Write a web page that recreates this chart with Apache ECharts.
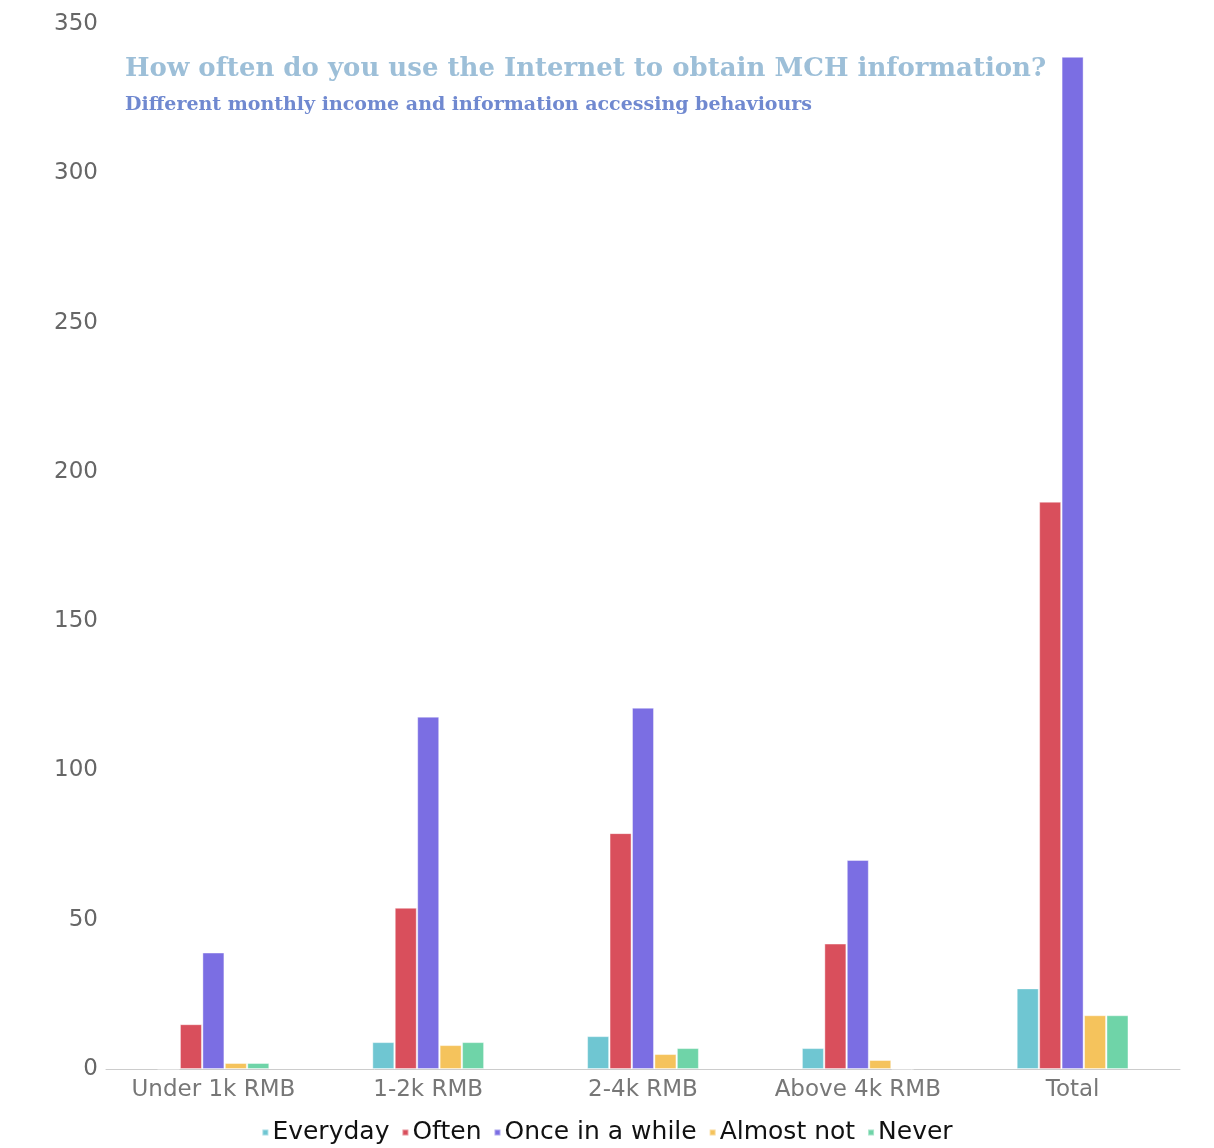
<!DOCTYPE html>
<html>
<head>
<meta charset="utf-8">
<title>MCH information access by monthly income</title>
<script src="https://cdn.jsdelivr.net/npm/echarts@6/dist/echarts.min.js"></script>
<style>
  html, body { margin: 0; padding: 0; background: #ffffff; }
  #chart { width: 1214px; height: 1148px; }
</style>
</head>
<body>
<div id="chart"></div>
<script>
// Income groups along the x axis
const categories = ['Under 1k RMB', '1-2k RMB', '2-4k RMB', 'Above 4k RMB', 'Total'];

// Number of respondents per answer, one value per income group
const everyday     = [0, 9, 11, 7, 27];
const often        = [15, 54, 79, 42, 190];
const onceInAWhile = [39, 118, 121, 70, 339];
const almostNot    = [2, 8, 5, 3, 18];
const never        = [2, 9, 7, 0, 18];

const seriesNames = ['Everyday', 'Often', 'Once in a while', 'Almost not', 'Never'];
const seriesValues = [everyday, often, onceInAWhile, almostNot, never];
const seriesColors = ['#6fc6d2', '#d94f5c', '#7b6ee3', '#f5c35c', '#6fd4a8'];

const chart = echarts.init(document.getElementById('chart'));

chart.setOption({
  animation: false,
  backgroundColor: '#ffffff',
  title: {
    text: 'How often do you use the Internet to obtain MCH information?',
    subtext: 'Different monthly income and information accessing behaviours',
    left: 120,
    top: 51,
    itemGap: 14,
    textStyle: {
      fontFamily: '"DejaVu Serif", serif',
      fontWeight: 'bold',
      fontSize: 26,
      color: '#9dbfd8'
    },
    subtextStyle: {
      fontFamily: '"DejaVu Serif", serif',
      fontWeight: 'bold',
      fontSize: 19,
      color: '#7089d0'
    }
  },
  legend: {
    data: seriesNames,
    bottom: -2,
    left: 'center',
    icon: 'rect',
    itemWidth: 6,
    itemHeight: 6,
    itemGap: 12,
    textStyle: {
      fontFamily: '"DejaVu Sans", sans-serif',
      fontSize: 25,
      color: '#111111',
      padding: [0, 0, 0, -1]
    }
  },
  grid: {
    left: 106,
    right: 34,
    top: 24,
    bottom: 79,
    containLabel: false
  },
  xAxis: {
    type: 'category',
    data: categories,
    axisLine: { lineStyle: { color: '#cccccc', width: 1 } },
    axisTick: { alignWithLabel: true, length: 4, lineStyle: { color: '#cccccc' } },
    axisLabel: {
      interval: 0,
      hideOverlap: false,
      fontFamily: '"DejaVu Sans", sans-serif',
      fontSize: 23,
      color: '#777777',
      margin: 10
    }
  },
  yAxis: {
    type: 'value',
    min: 0,
    max: 350,
    interval: 50,
    splitLine: { show: false },
    axisLine: { show: false },
    axisTick: { show: false },
    axisLabel: {
      fontFamily: '"DejaVu Sans", sans-serif',
      fontSize: 23,
      color: '#666666',
      margin: 8
    }
  },
  series: seriesNames.map((name, i) => ({
    name: name,
    type: 'bar',
    data: seriesValues[i],
    barWidth: 22,
    barGap: '2%',
    itemStyle: {
      color: seriesColors[i],
      borderColor: 'rgba(255,255,255,0.4)',
      borderWidth: 1
    }
  }))
});
</script>
</body>
</html>
